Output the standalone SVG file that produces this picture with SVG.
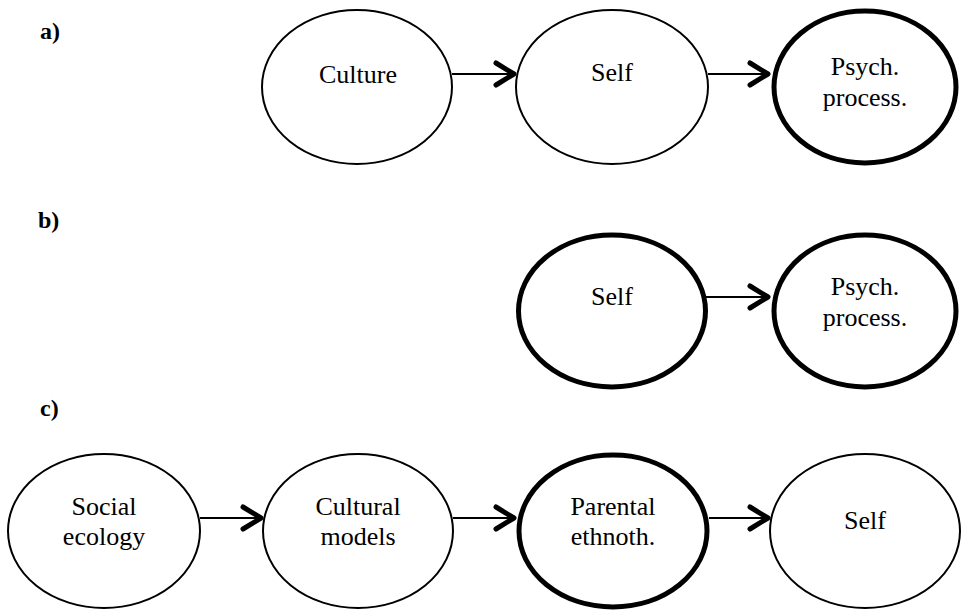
<svg xmlns="http://www.w3.org/2000/svg" width="961" height="612" viewBox="0 0 961 612">
  <style>
    .node { fill: #fff; stroke: #000; stroke-width: 2; }
    .node.bold { stroke-width: 5; }
    .lbl { font-size: 26px; fill: #000; text-anchor: middle; }
    .panel { font-size: 24px; font-weight: bold; fill: #000; }
    .edge { stroke: #000; stroke-width: 2; fill: none; marker-end: url(#chev); }
  </style>
  <defs>
    <marker id="chev" markerUnits="userSpaceOnUse" markerWidth="30" markerHeight="30" viewBox="-26 -15 30 30" refX="0" refY="0" orient="auto" overflow="visible">
      <path d="M-20,-11 L-2,0 L-20,11" fill="none" stroke="#000" stroke-width="5" stroke-linecap="round" stroke-linejoin="round"/>
    </marker>
  </defs>
  <rect width="961" height="612" fill="#fff"/>

  <g font-family="Liberation Serif, DejaVu Serif, serif">
  <!-- panel labels -->
  <text class="panel" x="40" y="39">a)</text>
  <text class="panel" x="38" y="228">b)</text>
  <text class="panel" x="40" y="416">c)</text>

  <!-- panel a -->
  <g id="a-culture">
    <ellipse class="node" cx="357" cy="87" rx="95" ry="77"/>
    <text class="lbl" x="358" y="83">Culture</text>
  </g>
  <g id="a-self">
    <ellipse class="node" cx="612" cy="87" rx="96" ry="77"/>
    <text class="lbl" x="612" y="81">Self</text>
  </g>
  <g id="a-psych">
    <ellipse class="node bold" cx="865" cy="87" rx="91" ry="76"/>
    <text class="lbl" x="865" y="75">Psych.</text>
    <text class="lbl" x="865" y="106">process.</text>
  </g>

  <!-- panel b -->
  <g id="b-self">
    <ellipse class="node bold" cx="612" cy="311" rx="93.5" ry="76"/>
    <text class="lbl" x="612" y="305">Self</text>
  </g>
  <g id="b-psych">
    <ellipse class="node bold" cx="865" cy="311" rx="91" ry="76"/>
    <text class="lbl" x="865" y="295">Psych.</text>
    <text class="lbl" x="865" y="326">process.</text>
  </g>

  <!-- panel c -->
  <g id="c-ecology">
    <ellipse class="node" cx="104" cy="531" rx="96" ry="77"/>
    <text class="lbl" x="104" y="515">Social</text>
    <text class="lbl" x="104" y="545">ecology</text>
  </g>
  <g id="c-models">
    <ellipse class="node" cx="358" cy="531" rx="95" ry="77"/>
    <text class="lbl" x="358" y="515">Cultural</text>
    <text class="lbl" x="358" y="545">models</text>
  </g>
  <g id="c-ethnotheories">
    <ellipse class="node bold" cx="613" cy="531" rx="94" ry="76"/>
    <text class="lbl" x="613" y="515">Parental</text>
    <text class="lbl" x="613" y="545">ethnoth.</text>
  </g>
  <g id="c-self">
    <ellipse class="node" cx="865" cy="531" rx="95" ry="77"/>
    <text class="lbl" x="865" y="529">Self</text>
  </g>
  </g>

  <!-- connectors -->
  <g id="edges">
    <line class="edge" x1="452" y1="74" x2="516" y2="74"/>
    <line class="edge" x1="708" y1="74" x2="770" y2="74"/>
    <line class="edge" x1="706" y1="297" x2="770" y2="297"/>
    <line class="edge" x1="200" y1="518" x2="263" y2="518"/>
    <line class="edge" x1="453" y1="518" x2="516" y2="518"/>
    <line class="edge" x1="709" y1="518" x2="770" y2="518"/>
  </g>
</svg>
